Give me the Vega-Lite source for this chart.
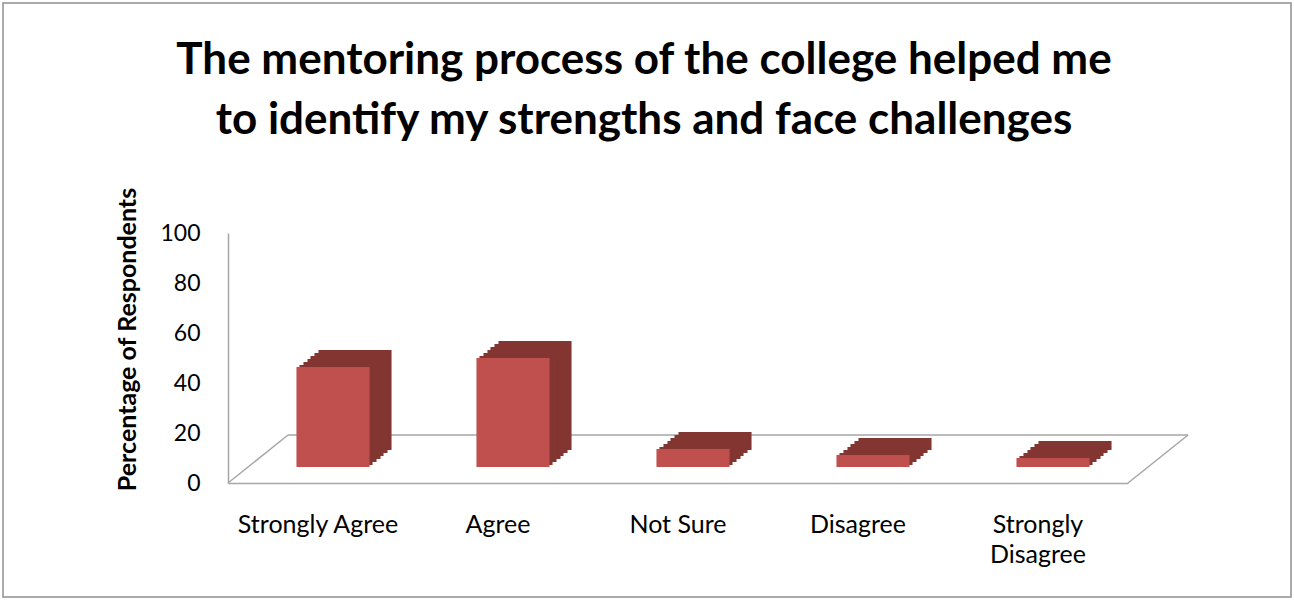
{
  "$schema": "https://vega.github.io/schema/vega-lite/v6.json",
  "width": 1288,
  "height": 594,
  "autosize": "none",
  "padding": {"left": 3, "top": 3, "right": 3, "bottom": 3},
  "background": "white",
  "config": {
    "view": {"stroke": "#8f8f8f", "strokeWidth": 1.5},
    "font": "Lato",
    "axisX": {
      "labelAngle": 0,
      "labelFont": "Lato",
      "labelFontSize": 25,
      "labelColor": "black",
      "labelPadding": 29,
      "labelLineHeight": 30,
      "ticks": false,
      "grid": false,
      "domainColor": "#a6a6a6",
      "domainWidth": 1.5,
      "offset": -114
    },
    "axisY": {
      "titleFont": "Lato",
      "titleFontSize": 25,
      "titleFontWeight": "bold",
      "titleColor": "black",
      "titlePadding": 19,
      "titleY": 336,
      "labelFont": "Lato",
      "labelFontSize": 23,
      "labelColor": "black",
      "labelPadding": 28,
      "ticks": false,
      "grid": false,
      "domainColor": "#a6a6a6",
      "domainWidth": 1.5,
      "offset": -225
    }
  },
  "title": {
    "text": ["The mentoring process of the college helped me", "to identify my strengths and face challenges"],
    "font": "Lato",
    "fontSize": 44,
    "fontWeight": "bold",
    "color": "black",
    "anchor": "middle",
    "baseline": "alphabetic",
    "lineHeight": 60,
    "offset": -175,
    "dx": -3
  },
  "data": {
    "values": [
      {"response": "Strongly Agree", "pct": 40},
      {"response": "Agree", "pct": 43.6},
      {"response": "Not Sure", "pct": 7.2},
      {"response": "Disagree", "pct": 4.8},
      {"response": "Strongly Disagree", "pct": 3.6}
    ]
  },
  "layer": [
    {
      "data": {"values": [{"floor": "plane"}]},
      "layer": [
        {
          "mark": {"type": "rule", "color": "#a6a6a6", "strokeWidth": 1.5},
          "encoding": {
            "x": {"datum": 0.0667, "type": "quantitative", "scale": {"domain": [0, 1], "range": [225, 1125]}, "axis": null},
            "x2": {"datum": 1.0667},
            "y": {"datum": 19.2, "type": "quantitative", "scale": {"domain": [0, 100], "range": [480, 230], "nice": false}, "axis": {"title": "Percentage of Respondents", "values": [0, 20, 40, 60, 80, 100]}}
          }
        },
        {
          "mark": {"type": "rule", "color": "#a6a6a6", "strokeWidth": 1.5},
          "encoding": {
            "x": {"datum": 0, "type": "quantitative", "axis": null},
            "x2": {"datum": 0.0667},
            "y": {"datum": 0, "type": "quantitative", "axis": {"title": "Percentage of Respondents", "values": [0, 20, 40, 60, 80, 100]}},
            "y2": {"datum": 19.2}
          }
        },
        {
          "mark": {"type": "rule", "color": "#a6a6a6", "strokeWidth": 1.5},
          "encoding": {
            "x": {"datum": 1, "type": "quantitative", "axis": null},
            "x2": {"datum": 1.0667},
            "y": {"datum": 0, "type": "quantitative", "axis": {"title": "Percentage of Respondents", "values": [0, 20, 40, 60, 80, 100]}},
            "y2": {"datum": 19.2}
          }
        }
      ]
    },
    {
      "encoding": {
        "x": {
          "field": "response",
          "type": "nominal",
          "sort": null,
          "scale": {"range": [225, 1125], "paddingInner": 0.594, "paddingOuter": 0.297},
          "axis": {
            "title": null,
            "labelExpr": "datum.value == 'Strongly Disagree' ? ['Strongly', 'Disagree'] : datum.label"
          }
        },
        "y": {
          "field": "pct",
          "type": "quantitative",
          "scale": {"domain": [0, 100], "range": [480, 230], "nice": false, "zero": true},
          "axis": {"title": "Percentage of Respondents", "values": [0, 20, 40, 60, 80, 100]}
        }
      },
      "layer": [
        {"mark": {"type": "bar", "color": "#833532", "xOffset": 37, "yOffset": -33, "y2Offset": -33}},
        {"mark": {"type": "bar", "color": "#833532", "xOffset": 33, "yOffset": -30, "y2Offset": -30}},
        {"mark": {"type": "bar", "color": "#833532", "xOffset": 29, "yOffset": -27, "y2Offset": -27}},
        {"mark": {"type": "bar", "color": "#833532", "xOffset": 26, "yOffset": -24, "y2Offset": -24}},
        {"mark": {"type": "bar", "color": "#833532", "xOffset": 22, "yOffset": -21, "y2Offset": -21}},
        {"mark": {"type": "bar", "color": "#833532", "xOffset": 18, "yOffset": -18, "y2Offset": -18}},
        {"mark": {"type": "bar", "color": "#C0504D", "xOffset": 15, "yOffset": -16, "y2Offset": -16}}
      ]
    }
  ],
  "resolve": {"scale": {"x": "independent"}}
}
